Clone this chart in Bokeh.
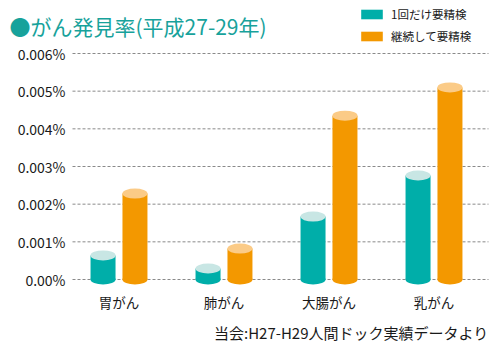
from bokeh.plotting import figure
from bokeh.models import Range1d, Label, Legend, LegendItem, ColumnDataSource
from bokeh.core.properties import value
from bokeh.embed import file_html
from bokeh.resources import INLINE

categories = ["胃がん", "肺がん", "大腸がん", "乳がん"]
once = [0.00064, 0.00029, 0.00167, 0.00276]       # 1回だけ要精検
cont = [0.00228, 0.00082, 0.00435, 0.00510]       # 継続して要精検
series_names = ["1回だけ要精検", "継続して要精検"]
y_ticks = [0, 0.001, 0.002, 0.003, 0.004, 0.005, 0.006]
y_tick_labels = ["0.00%", "0.001%", "0.002%", "0.003%", "0.004%", "0.005%", "0.006%"]
title_text = "●がん発見率(平成27-29年)"
source_text = "当会:H27-H29人間ドック実績データより"

TEAL, TEAL_TOP = "#00aea9", "#c8e6e4"
ORANGE, ORANGE_TOP = "#f39800", "#fbcb87"
JP = "Noto Sans CJK JP"
TXT = "#1a1a1a"

# pixel <-> data mapping (frame covers the whole canvas)
XPX, X0PX = 105.0, 118.5          # px per category, px of first category
YPX, Y0PX = 226 / 0.006, 279.0    # px per unit, px of zero line
def dx(px):
    return (px - X0PX) / XPX
def dy(py):
    return (Y0PX - py) / YPX

p = figure(width=503, height=354, output_backend="svg", toolbar_location=None,
           x_axis_location=None, y_axis_location=None,
           x_range=Range1d(dx(0), dx(503)), y_range=Range1d(dy(354), dy(0)),
           min_border=0)
p.outline_line_color = None
p.xgrid.visible = False
p.ygrid.visible = False

# grid lines
p.segment(x0=[dx(72)] * len(y_ticks), x1=[dx(488)] * len(y_ticks), y0=y_ticks, y1=y_ticks,
          line_color="#8a8a8a", line_dash="3 2", line_width=1)

# y tick labels
p.text(x=[dx(65)] * len(y_ticks), y=y_ticks, text=y_tick_labels,
       text_font=value(JP), text_font_size="14px", text_color=TXT,
       text_align="right", text_baseline="middle")

# cylinders
off = 0.152
bw = 0.238
xs = list(range(len(categories)))
rends = []
for vals, shift, body, top in [(once, -off, TEAL, TEAL_TOP), (cont, off, ORANGE, ORANGE_TOP)]:
    src = ColumnDataSource(dict(x=[i + shift for i in xs], top=vals, zero=[0] * len(vals)))
    p.ellipse(x="x", y="zero", width=bw, height=10, height_units="screen", source=src,
              fill_color=body, line_color=None)
    r = p.vbar(x="x", top="top", bottom=0, width=bw, source=src, fill_color=body, line_color=None)
    p.ellipse(x="x", y="top", width=bw, height=10, height_units="screen", source=src,
              fill_color=top, line_color=None)
    rends.append(r)

# category labels
p.text(x=xs, y=[dy(301)] * len(xs), text=categories,
       text_font=value(JP), text_font_size="13.5px", text_color=TXT,
       text_align="center", text_baseline="middle")

# title & source
p.add_layout(Label(x=dx(9), y=dy(25), text=title_text,
                   text_font=JP, text_font_size="21px", text_color="#17a29b",
                   text_baseline="middle", text_align="left"))
p.add_layout(Label(x=dx(488), y=dy(332), text=source_text,
                   text_font=JP, text_font_size="15px", text_color=TXT,
                   text_baseline="middle", text_align="right"))

legend = Legend(items=[LegendItem(label=series_names[0], renderers=[rends[0]]),
                       LegendItem(label=series_names[1], renderers=[rends[1]])],
                location=(358, 354 - 13 - 31), padding=0, margin=0, spacing=6,
                glyph_width=27, glyph_height=12, label_standoff=6,
                label_text_font=JP, label_text_font_size="11.5px", label_text_color=TXT,
                label_height=12,
                border_line_color=None, background_fill_alpha=0)
p.add_layout(legend)

open("out.html", "w").write(file_html(p, INLINE))
